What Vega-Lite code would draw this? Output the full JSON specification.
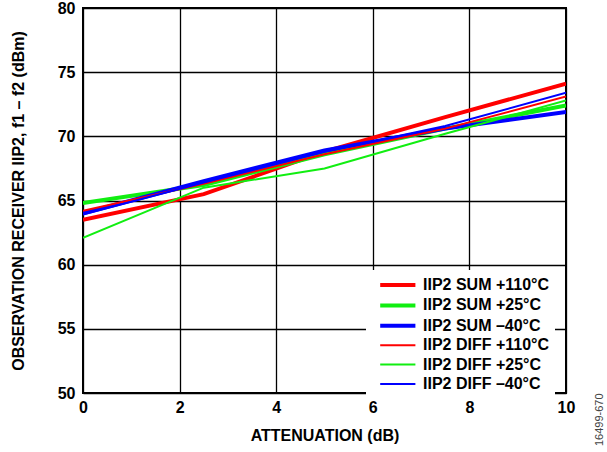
{
  "$schema": "https://vega.github.io/schema/vega-lite/v6.json",
  "width": 483,
  "height": 385,
  "autosize": {"type": "none"},
  "padding": {"left": 83, "top": 8, "right": 41, "bottom": 59},
  "background": "white",
  "title": {"text": "16499-670", "orient": "right", "anchor": "end", "angle": -90, "align": "left", "dx": -3, "fontSize": 11, "fontWeight": "normal", "color": "#444", "font": "Liberation Sans", "offset": 8},
  "config": {
    "font": "Liberation Sans",
    "view": {"stroke": "black", "strokeWidth": 2},
    "axis": {
      "grid": true, "gridColor": "black", "gridWidth": 1.3, "gridOpacity": 1,
      "domain": false, "ticks": false, "labelFlush": false,
      "labelFont": "Liberation Sans", "labelFontSize": 16, "labelFontWeight": "bold", "labelColor": "black",
      "titleFont": "Liberation Sans", "titleFontSize": 16, "titleFontWeight": "bold", "titleColor": "black"
    },
    "legend": {
      "labelFont": "Liberation Sans", "labelFontSize": 16, "labelFontWeight": "bold", "labelColor": "black"
    }
  },
  "data": {"values": [
    {"series": "IIP2 SUM +110°C", "atten": 0, "iip2": 63.5},
    {"series": "IIP2 SUM +110°C", "atten": 2.5, "iip2": 65.5},
    {"series": "IIP2 SUM +110°C", "atten": 5, "iip2": 68.8},
    {"series": "IIP2 SUM +110°C", "atten": 7.5, "iip2": 71.5},
    {"series": "IIP2 SUM +110°C", "atten": 10, "iip2": 74.1},
    {"series": "IIP2 SUM +25°C", "atten": 0, "iip2": 64.8},
    {"series": "IIP2 SUM +25°C", "atten": 2.5, "iip2": 66.2},
    {"series": "IIP2 SUM +25°C", "atten": 5, "iip2": 68.6},
    {"series": "IIP2 SUM +25°C", "atten": 7.5, "iip2": 70.6},
    {"series": "IIP2 SUM +25°C", "atten": 10, "iip2": 72.4},
    {"series": "IIP2 SUM –40°C", "atten": 0, "iip2": 64.0},
    {"series": "IIP2 SUM –40°C", "atten": 2.5, "iip2": 66.5},
    {"series": "IIP2 SUM –40°C", "atten": 5, "iip2": 68.9},
    {"series": "IIP2 SUM –40°C", "atten": 7.5, "iip2": 70.6},
    {"series": "IIP2 SUM –40°C", "atten": 10, "iip2": 71.9},
    {"series": "IIP2 DIFF +110°C", "atten": 0, "iip2": 64.2},
    {"series": "IIP2 DIFF +110°C", "atten": 2.5, "iip2": 66.3},
    {"series": "IIP2 DIFF +110°C", "atten": 5, "iip2": 68.6},
    {"series": "IIP2 DIFF +110°C", "atten": 7.5, "iip2": 70.6},
    {"series": "IIP2 DIFF +110°C", "atten": 10, "iip2": 73.1},
    {"series": "IIP2 DIFF +25°C", "atten": 0, "iip2": 62.1},
    {"series": "IIP2 DIFF +25°C", "atten": 2.5, "iip2": 66.0},
    {"series": "IIP2 DIFF +25°C", "atten": 5, "iip2": 67.5},
    {"series": "IIP2 DIFF +25°C", "atten": 7.5, "iip2": 70.2},
    {"series": "IIP2 DIFF +25°C", "atten": 10, "iip2": 72.8},
    {"series": "IIP2 DIFF –40°C", "atten": 0, "iip2": 63.9},
    {"series": "IIP2 DIFF –40°C", "atten": 2.5, "iip2": 66.4},
    {"series": "IIP2 DIFF –40°C", "atten": 5, "iip2": 68.8},
    {"series": "IIP2 DIFF –40°C", "atten": 7.5, "iip2": 70.8},
    {"series": "IIP2 DIFF –40°C", "atten": 10, "iip2": 73.4}
  ]},
  "mark": {"type": "line", "clip": true},
  "encoding": {
    "x": {"field": "atten", "type": "quantitative",
          "scale": {"domain": [0, 10], "nice": false},
          "axis": {"values": [0, 2, 4, 6, 8, 10], "title": "ATTENUATION (dB)", "labelPadding": 6, "titlePadding": 12}},
    "y": {"field": "iip2", "type": "quantitative",
          "scale": {"domain": [50, 80], "nice": false},
          "axis": {"values": [50, 55, 60, 65, 70, 75, 80], "title": "OBSERVATION RECEIVER IIP2, f1 – f2 (dBm)", "labelPadding": 8, "titlePadding": 31}},
    "color": {"field": "series", "type": "nominal",
      "scale": {"domain": ["IIP2 SUM +110°C", "IIP2 SUM +25°C", "IIP2 SUM –40°C", "IIP2 DIFF +110°C", "IIP2 DIFF +25°C", "IIP2 DIFF –40°C"],
                "range": ["#ff0000", "#11ee11", "#0000ff", "#ff0000", "#11ee11", "#0000ff"]},
      "legend": {"title": null, "orient": "none", "legendX": 283, "legendY": 262, "fillColor": "white", "padding": 5,
                 "symbolType": "M-0.1,0H4.3", "symbolSize": 256, "labelOffset": 32, "rowPadding": 2.4}},
    "strokeWidth": {"field": "series", "type": "nominal",
      "scale": {"type": "ordinal", "domain": ["IIP2 SUM +110°C", "IIP2 SUM +25°C", "IIP2 SUM –40°C", "IIP2 DIFF +110°C", "IIP2 DIFF +25°C", "IIP2 DIFF –40°C"],
                "range": [4, 4, 4, 2, 2, 2]},
      "legend": {"title": null, "orient": "none", "legendX": 283, "legendY": 262, "fillColor": "white", "padding": 5,
                 "symbolType": "M-0.1,0H4.3", "symbolSize": 256, "labelOffset": 32, "rowPadding": 2.4}}
  }
}
